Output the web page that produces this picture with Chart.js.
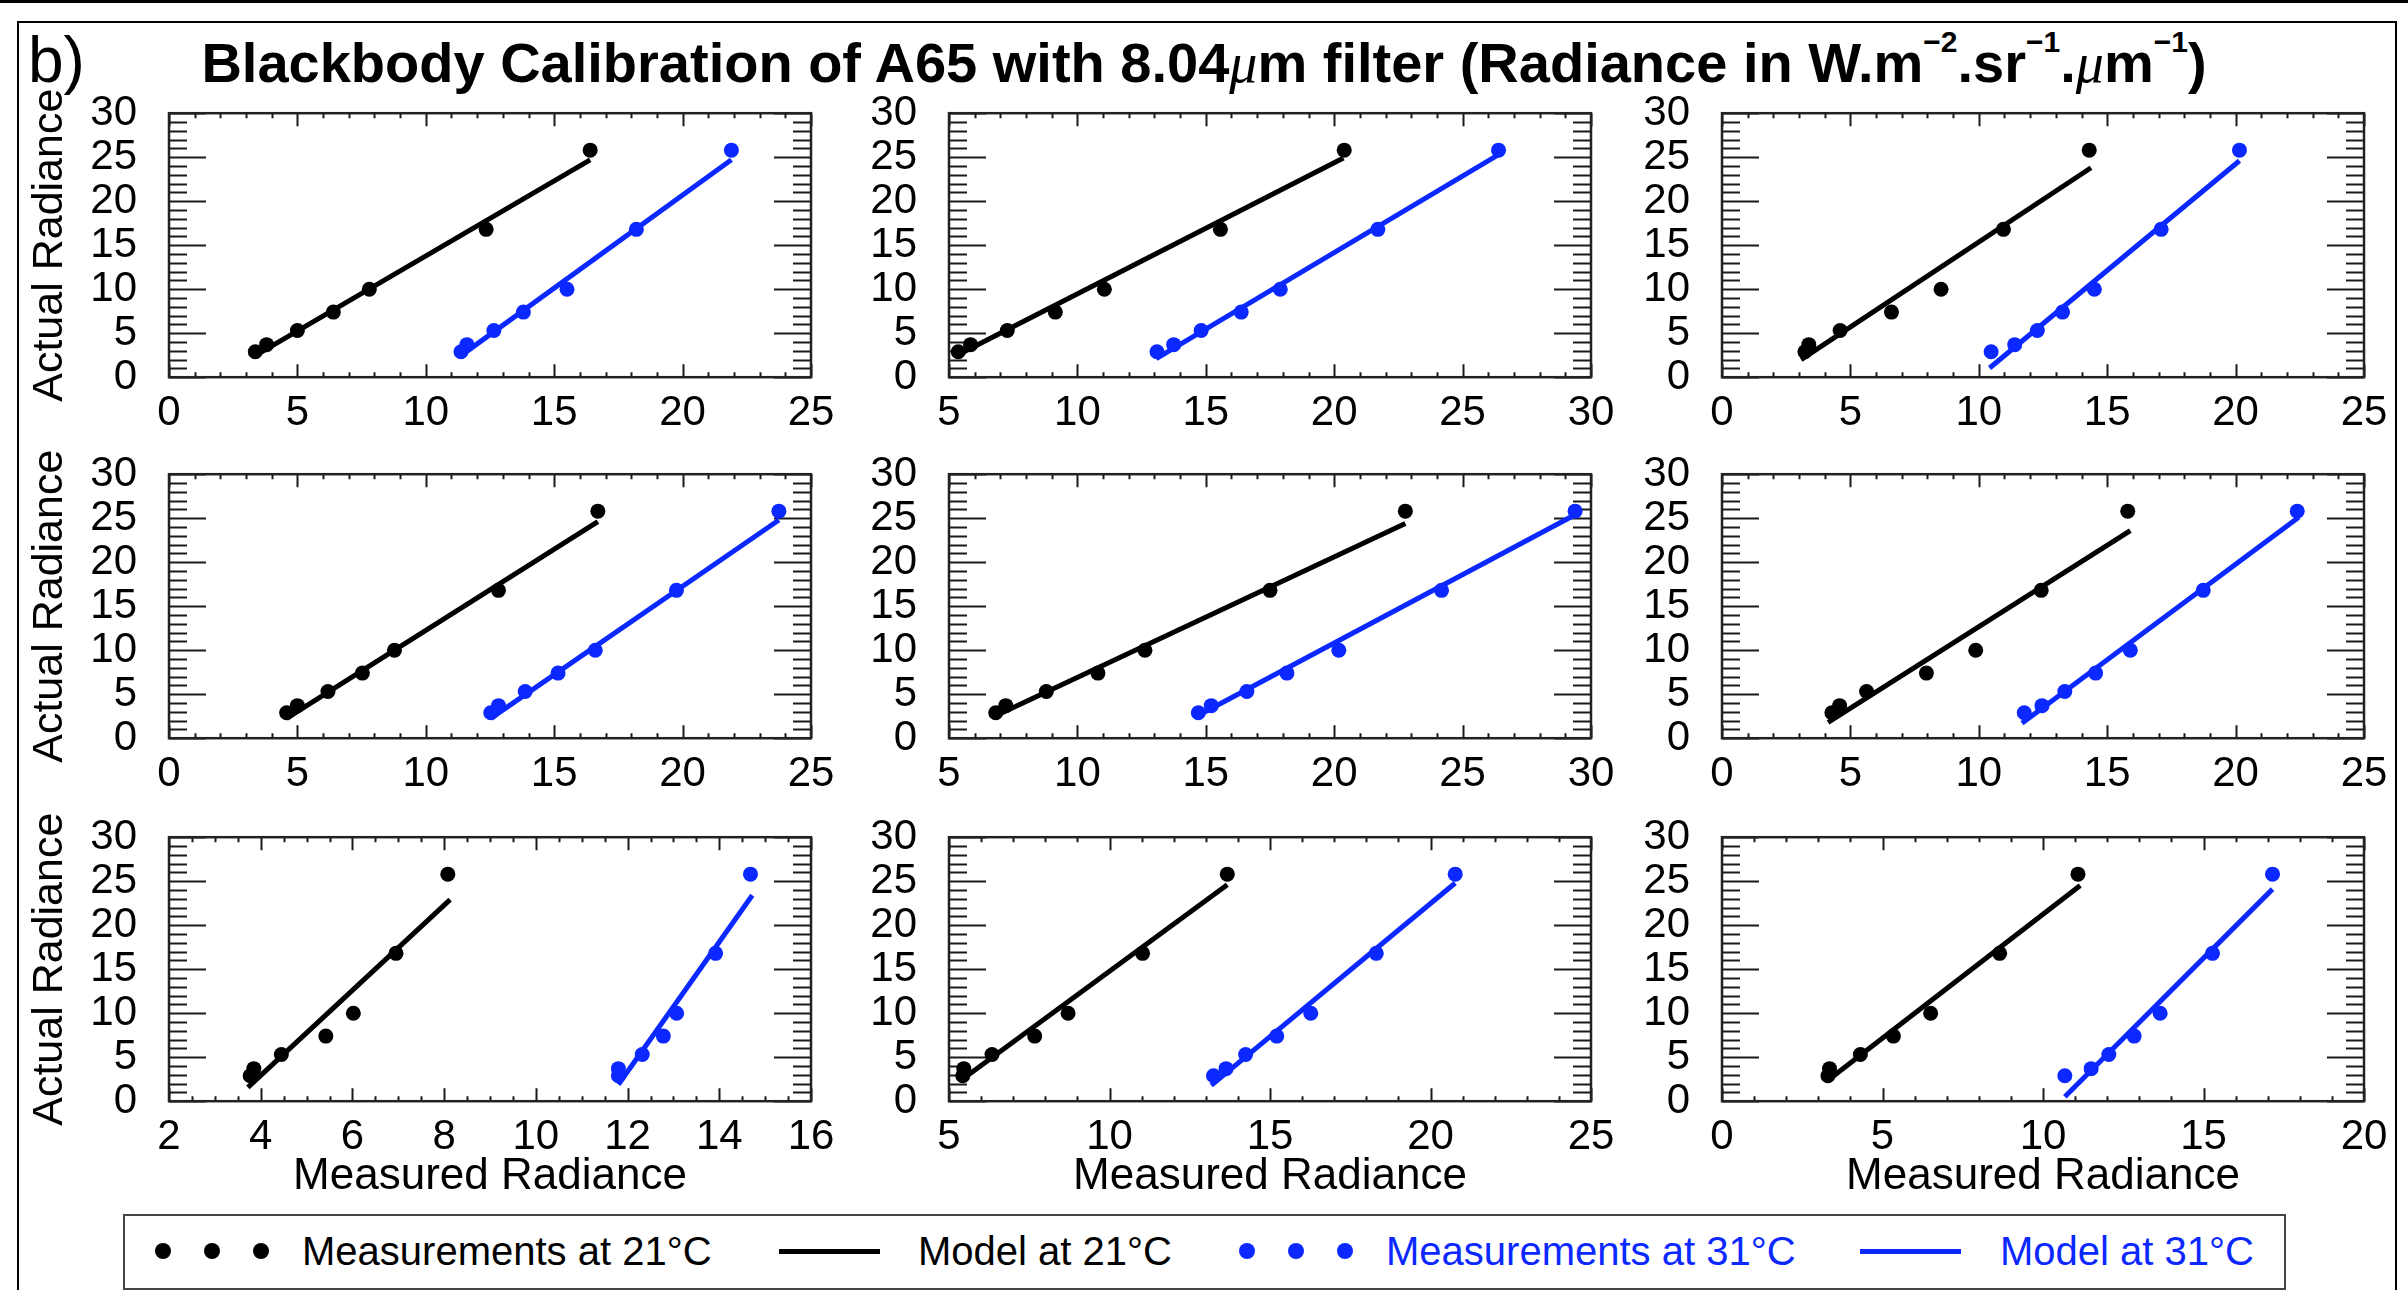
<!DOCTYPE html>
<html>
<head>
<meta charset="utf-8">
<script src="https://cdn.jsdelivr.net/npm/chart.js@4.4.0/dist/chart.umd.min.js"></script>
<style>
  html, body { margin: 0; padding: 0; background: #fff; }
  body { width: 2408px; height: 1290px; position: relative; overflow: hidden;
         font-family: 'Liberation Sans', Arial, sans-serif; color: #000; }
  .abs { position: absolute; }
  #title { left: 0; width: 2408px; top: 33px; line-height: 60px; text-align: center;
           font-size: 56px; font-weight: bold; white-space: nowrap; }
  #title sup { font-size: 30px; vertical-align: 30px; line-height: 0; }
  #title .mu { font-family: 'Liberation Serif', serif; font-style: italic; font-weight: normal; }
  #legend { left: 123px; top: 1214px; width: 2163px; height: 76px; box-sizing: border-box;
            border: 2px solid #444; }
  .ltxt { font-size: 40px; line-height: 46px; top: 1228px; white-space: nowrap; }
  .dot { width: 16px; height: 16px; border-radius: 50%; top: 1243px; }
  .seg { height: 5px; top: 1249px; }
</style>
</head>
<body>
<div class="abs" style="left:0;top:0;width:2408px;height:3px;background:#000"></div>
<div class="abs" style="left:17px;top:21px;width:2380px;height:1300px;box-sizing:border-box;border:2px solid #000"></div>
<div class="abs" style="left:28px;top:28px;font-size:64px;line-height:64px">b)</div>
<div id="title" class="abs">Blackbody Calibration of A65 with 8.04<span class="mu">μ</span>m filter (Radiance in W.m<sup>−2</sup>.sr<sup>−1</sup>.<span class="mu">μ</span>m<sup>−1</sup>)</div>

<div id="legend" class="abs"></div>
<div class="abs dot" style="left:155px;background:#000"></div>
<div class="abs dot" style="left:204px;background:#000"></div>
<div class="abs dot" style="left:253px;background:#000"></div>
<div class="abs ltxt" style="left:302px">Measurements at 21°C</div>
<div class="abs seg" style="left:779px;width:101px;background:#000"></div>
<div class="abs ltxt" style="left:918px">Model at 21°C</div>
<div class="abs dot" style="left:1239px;background:rgb(10,40,255)"></div>
<div class="abs dot" style="left:1288px;background:rgb(10,40,255)"></div>
<div class="abs dot" style="left:1337px;background:rgb(10,40,255)"></div>
<div class="abs ltxt" style="left:1386px;color:rgb(10,40,255)">Measurements at 31°C</div>
<div class="abs seg" style="left:1860px;width:101px;background:rgb(10,40,255)"></div>
<div class="abs ltxt" style="left:2000px;color:rgb(10,40,255)">Model at 31°C</div>

<script>
// Actual (blackbody) radiance, same for every panel
const ACTUAL = [2.9, 3.7, 5.3, 7.4, 10.0, 16.8, 25.8];

// Measured radiance, panels in row order
const meas21 = [
  [3.36, 3.8, 5.0, 6.4, 7.8, 12.35, 16.4],
  [5.36, 5.84, 7.27, 9.14, 11.05, 15.57, 20.39],
  [3.23, 3.38, 4.6, 6.6, 8.53, 10.96, 14.3],
  [4.58, 5.0, 6.19, 7.53, 8.78, 12.83, 16.7],
  [6.82, 7.21, 8.79, 10.8, 12.63, 17.5, 22.77],
  [4.28, 4.58, 5.63, 7.96, 9.88, 12.43, 15.8],
  [3.77, 3.85, 4.45, 5.42, 6.02, 6.95, 8.08],
  [5.43, 5.46, 6.34, 7.67, 8.71, 11.03, 13.67],
  [3.3, 3.35, 4.31, 5.34, 6.5, 8.65, 11.09]
];
const meas31 = [
  [11.37, 11.6, 12.65, 13.8, 15.5, 18.2, 21.9],
  [13.1, 13.75, 14.82, 16.38, 17.9, 21.7, 26.4],
  [10.48, 11.4, 12.28, 13.26, 14.5, 17.1, 20.15],
  [12.53, 12.83, 13.87, 15.15, 16.6, 19.76, 23.75],
  [14.71, 15.21, 16.6, 18.16, 20.18, 24.18, 29.38],
  [11.77, 12.46, 13.35, 14.55, 15.9, 18.74, 22.4],
  [11.8, 11.8, 12.32, 12.78, 13.07, 13.92, 14.68],
  [13.24, 13.63, 14.24, 15.21, 16.27, 18.31, 20.77],
  [10.68, 11.5, 12.05, 12.84, 13.65, 15.28, 17.15]
];

// Model line end points
const model21X = [[3.36, 16.4], [5.3, 20.36], [3.08, 14.37], [4.58, 16.7], [6.82, 22.77], [4.13, 15.9], [3.72, 8.13], [5.46, 13.67], [3.26, 11.16]];
const model21Y = [[2.45, 24.7], [2.47, 24.9], [2.0, 23.8], [2.25, 24.6], [2.56, 24.4], [1.8, 23.6], [1.58, 22.9], [2.6, 24.6], [2.26, 24.5]];
const model31X = [[11.37, 21.9], [13.07, 26.4], [10.42, 20.15], [12.53, 23.75], [14.68, 29.38], [11.68, 22.46], [11.8, 14.72], [13.17, 20.77], [10.68, 17.15]];
const model31Y = [[2.45, 24.7], [2.1, 25.3], [1.05, 24.6], [2.25, 24.8], [2.56, 25.4], [1.7, 25.1], [1.9, 23.4], [1.8, 24.8], [0.5, 24.1]];

// Axes
const xMin = [0, 5, 0, 0, 5, 0, 2, 5, 0];
const xMax = [25, 30, 25, 25, 30, 25, 16, 25, 20];
const xStep = [5, 5, 5, 5, 5, 5, 2, 5, 5];
const xMinorStep = [1, 1, 1, 1, 1, 1, 0.5, 1, 1];
const yRange = [0, 30];
const yStep = 5, yMinorStep = 1;

const X_TITLE = 'Measured Radiance';
const Y_TITLE = 'Actual Radiance';

const BLUE = 'rgb(10,40,255)';
const FONT = "'Liberation Sans', Arial, sans-serif";

// plot area placement
const COLS = [169, 949, 1722];
const ROWS = [113, 474, 837];
const PLOT_W = 642, PLOT_H = 264;
const PAD_L = 160, PAD_R = 40, PAD_T = 30, PAD_B = 110;

// inward ticks on all four sides + frame, IDL style
const frameTicks = {
  id: 'frameTicks',
  beforeDatasetsDraw(chart, args, opts) {
    const { ctx, chartArea: a, scales } = chart;
    ctx.save();
    ctx.strokeStyle = '#1a1a1a';
    ctx.lineWidth = 2;
    ctx.beginPath();
    const sx = scales.x, sy = scales.y;
    let n = Math.round((sx.max - sx.min) / opts.xMinor);
    for (let i = 0; i <= n; i++) {
      const v = sx.min + i * opts.xMinor;
      const major = Math.abs(v / opts.xMajor - Math.round(v / opts.xMajor)) < 1e-6;
      const len = major ? 13 : 5;
      const px = Math.round(sx.getPixelForValue(v)) + 0.5;
      ctx.moveTo(px, a.bottom); ctx.lineTo(px, a.bottom - len);
      ctx.moveTo(px, a.top); ctx.lineTo(px, a.top + len);
    }
    n = Math.round((sy.max - sy.min) / opts.yMinor);
    for (let i = 0; i <= n; i++) {
      const v = sy.min + i * opts.yMinor;
      const major = Math.abs(v / opts.yMajor - Math.round(v / opts.yMajor)) < 1e-6;
      const len = major ? 37 : 18;
      const py = Math.round(sy.getPixelForValue(v)) + 0.5;
      ctx.moveTo(a.left, py); ctx.lineTo(a.left + len, py);
      ctx.moveTo(a.right, py); ctx.lineTo(a.right - len, py);
    }
    ctx.stroke();
    ctx.lineWidth = 2.5;
    ctx.strokeStyle = '#222';
    ctx.strokeRect(a.left, a.top, a.right - a.left, a.bottom - a.top);
    ctx.restore();
  }
};

function pts(xs, ys) {
  return xs.map((x, i) => ({ x: x, y: ys[i] }));
}

for (let p = 0; p < 9; p++) {
  const r = Math.floor(p / 3), c = p % 3;
  const cv = document.createElement('canvas');
  const w = PAD_L + PLOT_W + PAD_R, h = PAD_T + PLOT_H + PAD_B;
  cv.width = w; cv.height = h;
  cv.style.cssText = `position:absolute;left:0;top:0;width:${w}px;height:${h}px`;
  document.body.appendChild(cv);

  const chart = new Chart(cv, {
    type: 'scatter',
    data: {
      datasets: [
        { data: pts(meas21[p], ACTUAL), backgroundColor: '#000', borderWidth: 0, pointRadius: 7.5 },
        { data: pts(model21X[p], model21Y[p]), showLine: true, borderColor: '#000', borderWidth: 5, pointRadius: 0 },
        { data: pts(meas31[p], ACTUAL), backgroundColor: BLUE, borderWidth: 0, pointRadius: 7.5 },
        { data: pts(model31X[p], model31Y[p]), showLine: true, borderColor: BLUE, borderWidth: 5, pointRadius: 0 }
      ]
    },
    options: {
      responsive: false,
      maintainAspectRatio: false,
      devicePixelRatio: 1,
      animation: false,
      layout: { autoPadding: false, padding: { left: 0, right: PAD_R, top: 0, bottom: 0 } },
      plugins: {
        legend: { display: false },
        tooltip: { enabled: false },
        frameTicks: { xMinor: xMinorStep[p], xMajor: xStep[p], yMinor: yMinorStep, yMajor: yStep }
      },
      scales: {
        x: {
          type: 'linear', min: xMin[p], max: xMax[p],
          grid: { display: false }, border: { display: false },
          ticks: { stepSize: xStep[p], color: '#000', padding: 3, maxRotation: 0, autoSkip: false,
                   font: { family: FONT, size: 42 } },
          title: { display: r === 2, text: X_TITLE, color: '#000', padding: { top: 0, bottom: 8 },
                   font: { family: FONT, size: 44 } },
          afterFit(s) { s.height = PAD_B; }
        },
        y: {
          type: 'linear', min: yRange[0], max: yRange[1],
          grid: { display: false }, border: { display: false },
          ticks: { stepSize: yStep, color: '#000', padding: 24, autoSkip: false,
                   font: { family: FONT, size: 42 } },
          title: { display: c === 0, text: Y_TITLE, color: '#000', padding: { top: 15, bottom: 0 },
                   font: { family: FONT, size: 43 } },
          afterFit(s) { s.width = PAD_L; }
        }
      }
    },
    plugins: [frameTicks]
  });

  // make the plot area the wanted size, then move the canvas so it sits in place
  let a = chart.chartArea;
  const dw = PLOT_W - (a.right - a.left), dh = PLOT_H - (a.bottom - a.top);
  if (Math.abs(dw) > 0.5 || Math.abs(dh) > 0.5) {
    chart.resize(w + dw, h + dh);
    a = chart.chartArea;
  }
  cv.style.left = (COLS[c] - a.left) + 'px';
  cv.style.top = (ROWS[r] - a.top) + 'px';
}
</script>
</body>
</html>
